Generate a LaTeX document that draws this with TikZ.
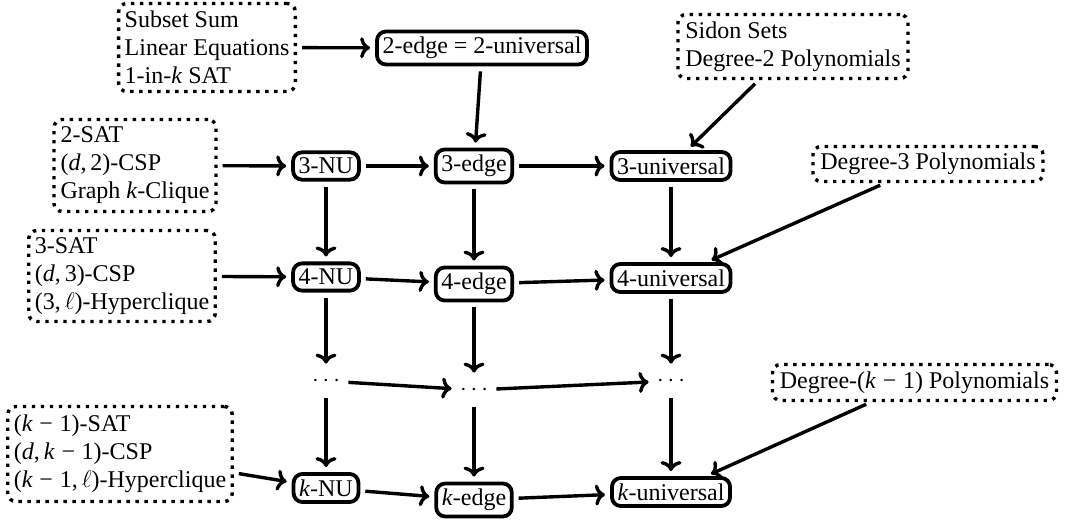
\documentclass[tikz,border=0pt]{standalone}
\usepackage{fontspec}
\setmainfont{Liberation Serif}
\usetikzlibrary{arrows.meta}
\newcommand{\mns}{\hspace{0.28em}−\hspace{0.28em}}
\begin{document}
\begin{tikzpicture}[x=0.5pt,y=-0.5pt,
  every node/.style={font=\fontsize{12pt}{14pt}\selectfont},
  sbox/.style={draw, line width=1.9pt, rounded corners=4.5pt, inner sep=2.8pt},
  dbox/.style={draw, line width=1.7pt, dash pattern=on 1.7pt off 2.8pt, rounded corners=4pt, align=left, inner sep=3pt},
  dnode/.style={inner sep=0pt, minimum width=17pt, minimum height=12pt},
  arr/.style={-{To[length=5pt,width=10.5pt]}, line width=1.7pt, shorten <=2.5pt, shorten >=2.5pt}
]
\useasboundingbox (0,0) rectangle (1069,524);
\node[dbox, minimum width=87pt, minimum height=44pt] (A) at (207,47.5) {Subset Sum\\Linear Equations\\1-in-\textit{k} SAT};
\node[sbox] (e2) at (482,48) {2-edge = 2-universal};
\node[dbox, minimum width=115pt, minimum height=32pt] (E) at (793,46.5) {Sidon Sets\\Degree-2 Polynomials};
\node[dbox, minimum width=81pt, minimum height=46pt] (B) at (135,165.5) {2-SAT\\(\textit{d},\,2)-CSP\\Graph \textit{k}-Clique};
\node[sbox] (nu3) at (326,166) {3-NU};
\node[sbox] (ed3) at (474,166) {3-edge};
\node[sbox] (un3) at (671,166) {3-universal};
\node[dbox, minimum width=115pt, minimum height=17.5pt] (F) at (928,164) {Degree-3 Polynomials};
\node[dbox, minimum width=92.5pt, minimum height=45.5pt] (C) at (122,276) {3-SAT\\(\textit{d},\,3)-CSP\\(3,\,$\ell$)-Hyperclique};
\node[sbox] (nu4) at (326,277) {4-NU};
\node[sbox] (ed4) at (474,284) {4-edge};
\node[sbox] (un4) at (671,278) {4-universal};
\node[dnode] (d1) at (326,381) {$\cdots$};
\node[dnode] (d2) at (474,390) {$\cdots$};
\node[dnode] (d3) at (671,381) {$\cdots$};
\node[dbox, minimum width=142pt, minimum height=18pt] (G) at (914.5,382.5) {Degree-(\textit{k}\mns1) Polynomials};
\node[dbox, minimum width=111.5pt, minimum height=47.5pt] (D) at (120,454) {(\textit{k}\mns1)-SAT\\(\textit{d},\,\textit{k}\mns1)-CSP\\(\textit{k}\mns1,\,$\ell$)-Hyperclique};
\node[sbox] (nuk) at (326,488) {\textit{k}-NU};
\node[sbox] (edk) at (474,500) {\textit{k}-edge};
\node[sbox] (unk) at (671,492) {\textit{k}-universal};
\draw[arr] (A) -- (e2);
\draw[arr] (e2) -- (ed3);
\draw[arr] (E) -- (un3);
\draw[arr] (B) -- (nu3);
\draw[arr] (nu3) -- (ed3);
\draw[arr] (ed3) -- (un3);
\draw[arr] (C) -- (nu4);
\draw[arr] (nu4) -- (ed4);
\draw[arr] (ed4) -- (un4);
\draw[arr] (F) -- (un4);
\draw[arr] (nu3) -- (nu4);
\draw[arr] (ed3) -- (ed4);
\draw[arr] (un3) -- (un4);
\draw[arr] (nu4) -- (d1);
\draw[arr] (ed4) -- (d2);
\draw[arr] (un4) -- (d3);
\draw[arr] (d1) -- (d2);
\draw[arr] (d2) -- (d3);
\draw[arr] (d1) -- (nuk);
\draw[arr] (d2) -- (edk);
\draw[arr] (d3) -- (unk);
\draw[arr] (D) -- (nuk);
\draw[arr] (nuk) -- (edk);
\draw[arr] (edk) -- (unk);
\draw[arr] (G) -- (unk);
\end{tikzpicture}
\end{document}
